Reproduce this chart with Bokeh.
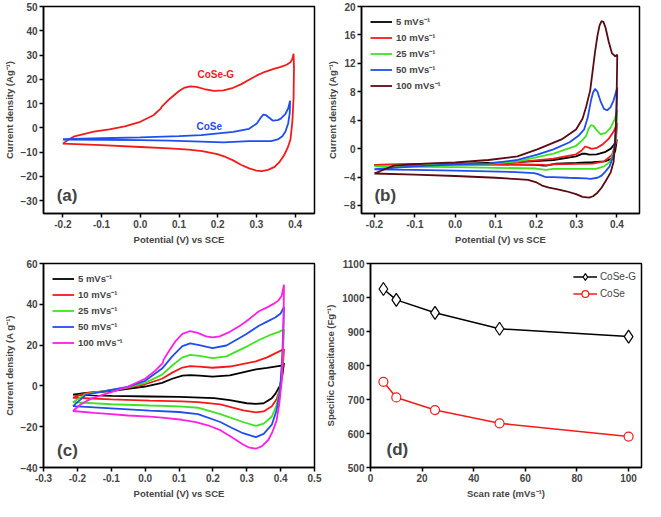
from bokeh.plotting import figure
from bokeh.layouts import column, row
from bokeh.models import FixedTicker, NumeralTickFormatter, Legend, LegendItem, Label
from bokeh.embed import file_html
from bokeh.resources import INLINE

FONT = "Liberation Sans"

# ---------------- Panel (a): CV at 5 mV/s ----------------
A_COSEG_V = [-0.2, -0.185, -0.17, -0.12, -0.08, -0.04, 0.0, 0.034, 0.052, 0.056, 0.075, 0.1, 0.115, 0.129,
             0.145, 0.165, 0.19, 0.215, 0.24, 0.26, 0.281, 0.3, 0.322, 0.345, 0.363, 0.378, 0.388, 0.393, 0.396,
             0.397, 0.396, 0.393, 0.388, 0.38, 0.371, 0.36, 0.347, 0.33, 0.314, 0.3, 0.281, 0.26, 0.24, 0.22,
             0.199, 0.16, 0.125, 0.075, 0.0, -0.1, -0.2]
A_COSEG_J = [-6.5, -4.8, -3.5, -1.6, -0.6, 0.6, 2.5, 5.2, 7.8, 8.8, 11.8, 15.2, 16.6, 17.1,
             16.9, 16.0, 15.2, 15.4, 16.5, 17.9, 19.8, 21.5, 23.1, 24.3, 25.1, 26.0, 27.0, 28.5, 30.5,
             25.0, 12.5, 3.0, -4.8, -8.5, -11.4, -14.0, -16.1, -17.3, -17.8, -17.6, -16.7, -15.2, -13.4, -12.0,
             -10.8, -9.6, -9.0, -8.5, -7.9, -7.1, -6.5]
A_COSE_V = [-0.2, -0.1, 0.0, 0.1, 0.157, 0.24, 0.281, 0.301, 0.311, 0.318, 0.325, 0.342, 0.355, 0.363, 0.375,
            0.382, 0.387,
            0.386, 0.382, 0.375, 0.367, 0.355, 0.338, 0.281, 0.24, 0.215, 0.157, 0.075, 0.0, -0.1, -0.2]
A_COSE_J = [-4.7, -4.3, -3.9, -3.4, -3.0, -1.7, -0.4, 1.8, 4.2, 5.4, 5.2, 3.0, 3.2, 3.8, 5.8,
            8.0, 11.2,
            6.0, 1.8, -1.5, -3.5, -4.8, -5.5, -5.5, -5.8, -6.0, -5.7, -5.3, -5.1, -4.9, -4.8]

# ---------------- Panel (b): CoSe at several scan rates ----------------
B_LABELS = ["5 mVs\u207b\u00b9", "10 mVs\u207b\u00b9", "25 mVs\u207b\u00b9", "50 mVs\u207b\u00b9", "100 mVs\u207b\u00b9"]
B5_V = [-0.2, -0.1, 0.0, 0.082, 0.154, 0.243, 0.299, 0.315, 0.322, 0.331, 0.35, 0.37, 0.385, 0.395, 0.4,
        0.4, 0.396, 0.388, 0.37, 0.34, 0.3, 0.25, 0.225, 0.219, 0.2, 0.1, 0.0, -0.1, -0.2]
B5_J = [-2.3, -2.2, -2.15, -2.0, -1.9, -1.6, -1.1, -0.7, -0.72, -0.85, -0.8, -0.5, 0.0, 0.7, 1.3,
        1.3, -0.3, -1.4, -1.8, -1.9, -2.0, -2.1, -2.4, -2.4, -2.3, -2.2, -2.2, -2.25, -2.3]
B10_V = [-0.2, -0.1, 0.0, 0.082, 0.154, 0.243, 0.299, 0.312, 0.322, 0.33, 0.338, 0.35, 0.365, 0.38, 0.392, 0.401,
         0.401, 0.397, 0.388, 0.368, 0.34, 0.3, 0.243, 0.225, 0.219, 0.2, 0.1, 0.0, -0.1, -0.2]
B10_J = [-2.3, -2.25, -2.2, -2.1, -1.9, -1.4, -0.8, -0.3, 0.3, 0.15, -0.03, 0.1, 0.6, 1.4, 2.4, 3.6,
         3.6, 0.8, -0.9, -1.8, -2.1, -2.15, -2.2, -2.35, -2.3, -2.25, -2.25, -2.25, -2.25, -2.3]
B25_V = [-0.2, -0.1, 0.0, 0.082, 0.154, 0.243, 0.299, 0.315, 0.324, 0.33, 0.336, 0.342, 0.35, 0.36, 0.372, 0.385,
         0.395, 0.401,
         0.401, 0.397, 0.388, 0.378, 0.368, 0.348, 0.3, 0.243, 0.225, 0.219, 0.2, 0.1, 0.0, -0.1, -0.2]
B25_J = [-2.5, -2.3, -2.2, -2.15, -1.8, -0.7, 0.4, 1.2, 1.8, 2.8, 3.3, 3.2, 2.6, 2.0, 2.2, 3.0,
         4.2, 5.4,
         5.4, 1.0, -1.4, -2.1, -2.5, -2.85, -2.85, -2.85, -3.0, -2.95, -2.8, -2.7, -2.6, -2.55, -2.5]
B50_V = [-0.2, -0.1, 0.0, 0.082, 0.154, 0.203, 0.243, 0.283, 0.305, 0.319, 0.328, 0.336, 0.341, 0.346, 0.352,
         0.36, 0.368, 0.376, 0.384, 0.392, 0.397, 0.401,
         0.401, 0.398, 0.392, 0.382, 0.372, 0.362, 0.352, 0.335, 0.324, 0.28, 0.243, 0.225, 0.219, 0.205,
         0.195, 0.15, 0.082, 0.0, -0.1, -0.2]
B50_J = [-2.9, -2.5, -2.2, -2.1, -1.6, -0.85, -0.1, 0.9, 1.8, 2.7, 4.4, 6.8, 7.9, 8.4, 8.0,
         6.6, 5.6, 5.4, 5.8, 6.8, 7.8, 8.6,
         8.6, 3.0, -0.9, -2.5, -3.2, -3.8, -4.1, -4.25, -4.2, -4.1, -4.0, -4.0, -3.9, -3.6,
         -3.45, -3.3, -3.2, -3.1, -3.0, -2.9]
B100_V = [-0.2, -0.17, -0.152, -0.1, -0.05, 0.0, 0.082, 0.154, 0.203, 0.263, 0.299, 0.315, 0.324, 0.334, 0.34,
          0.346, 0.352, 0.357, 0.362, 0.367, 0.372, 0.38, 0.388, 0.396, 0.401,
          0.401, 0.399, 0.396, 0.392, 0.385, 0.372, 0.362, 0.352, 0.341, 0.331, 0.315, 0.299, 0.275, 0.251,
          0.232, 0.215, 0.199, 0.18, 0.154, 0.1, 0.0, -0.1, -0.2]
B100_J = [-3.5, -2.8, -2.4, -2.2, -2.05, -1.95, -1.6, -1.1, -0.1, 1.3, 2.7, 4.2, 5.9, 8.2, 10.9,
          13.6, 15.9, 17.3, 17.95, 17.8, 17.0, 15.0, 13.4, 13.0, 13.2,
          13.2, 6.0, 1.0, -1.8, -3.3, -4.6, -5.5, -6.2, -6.7, -6.9, -6.8, -6.4, -6.0, -5.7,
          -5.5, -5.2, -4.7, -4.4, -4.3, -4.1, -3.85, -3.65, -3.5]

# ---------------- Panel (c): CoSe-G at several scan rates ----------------
C5_V = [-0.213, -0.175, -0.1, -0.052, 0.0, 0.05, 0.08, 0.11, 0.133, 0.16, 0.199, 0.25, 0.327, 0.36, 0.393, 0.405, 0.41,
        0.41, 0.405, 0.398, 0.393, 0.385, 0.374, 0.35, 0.327, 0.3, 0.25, 0.204, 0.1, 0.014, -0.1, -0.213]
C5_J = [-4.3, -3.4, -2.6, -1.5, -0.3, 1.5, 3.5, 5.0, 5.3, 5.0, 4.5, 5.2, 8.1, 8.8, 9.7, 10.0, 11.2,
        11.2, 5.0, 0.0, -1.3, -3.8, -6.0, -8.5, -8.8, -8.5, -7.0, -6.0, -5.4, -5.2, -4.9, -4.3]
C10_V = [-0.213, -0.175, -0.1, -0.052, 0.0, 0.05, 0.08, 0.11, 0.133, 0.16, 0.199, 0.25, 0.327, 0.36, 0.393, 0.41,
         0.41, 0.405, 0.398, 0.388, 0.374, 0.35, 0.327, 0.29, 0.222, 0.156, 0.109, 0.014, -0.1, -0.213]
C10_J = [-5.8, -3.5, -2.2, -1.0, 0.8, 3.5, 6.5, 9.0, 9.7, 9.4, 8.9, 9.5, 12.0, 14.0, 16.7, 18.0,
         18.0, 6.0, -1.5, -6.5, -10.0, -12.5, -13.0, -12.0, -9.1, -8.0, -7.6, -7.2, -6.6, -5.8]
C25_V = [-0.213, -0.175, -0.1, -0.052, 0.0, 0.05, 0.08, 0.11, 0.133, 0.16, 0.199, 0.24, 0.298, 0.336, 0.374, 0.395, 0.41,
         0.41, 0.405, 0.398, 0.388, 0.374, 0.35, 0.327, 0.289, 0.222, 0.156, 0.1, 0.014, -0.1, -0.213]
C25_J = [-8.0, -4.0, -2.0, -0.7, 1.5, 5.5, 10.0, 14.0, 15.2, 14.7, 13.6, 14.5, 19.1, 22.5, 25.3, 26.5, 27.7,
         27.7, 10.0, -2.0, -9.5, -15.0, -18.5, -19.6, -17.7, -13.8, -10.7, -10.0, -9.6, -9.0, -8.0]
C50_V = [-0.213, -0.175, -0.1, -0.052, 0.0, 0.05, 0.08, 0.11, 0.133, 0.16, 0.199, 0.24, 0.298, 0.336, 0.36, 0.384, 0.4, 0.41,
         0.41, 0.405, 0.398, 0.388, 0.374, 0.35, 0.327, 0.289, 0.255, 0.222, 0.156, 0.1, 0.014, -0.1, -0.213]
C50_J = [-9.9, -4.4, -2.0, -0.5, 2.5, 8.5, 14.5, 19.5, 20.8, 20.0, 18.5, 19.8, 25.3, 29.5, 31.5, 33.5, 35.5, 38.7,
         38.7, 15.0, -2.9, -12.0, -19.0, -23.5, -25.1, -23.2, -20.5, -17.7, -13.8, -12.8, -12.1, -11.0, -9.9]
C100_V = [-0.213, -0.19, -0.156, -0.1, -0.052, 0.0, 0.03, 0.052, 0.055, 0.07, 0.09, 0.11, 0.133, 0.155, 0.18, 0.199,
          0.22, 0.25, 0.28, 0.298, 0.336, 0.36, 0.379, 0.393, 0.403, 0.41,
          0.41, 0.408, 0.403, 0.396, 0.388, 0.376, 0.364, 0.345, 0.327, 0.308, 0.289, 0.255, 0.222, 0.185, 0.15,
          0.109, 0.05, 0.014, -0.05, -0.1, -0.15, -0.213]
C100_J = [-12.3, -9.0, -6.0, -3.0, -0.5, 3.5, 7.5, 11.2, 13.0, 17.0, 22.0, 25.5, 26.9, 26.0, 24.3, 23.8,
          24.3, 26.5, 29.5, 31.6, 36.6, 38.5, 40.2, 41.8, 44.1, 49.6,
          49.6, 25.0, 1.8, -9.0, -17.0, -22.5, -26.4, -29.5, -30.8, -30.3, -28.7, -25.0, -21.7, -19.3, -17.8,
          -16.6, -15.6, -15.1, -14.5, -13.8, -13.2, -12.3]

# ---------------- Panel (d): specific capacitance ----------------
D_RATE = [5, 10, 25, 50, 100]
D_COSEG = [1025, 993, 955, 908, 885]
D_COSE = [752, 706, 669, 630, 591]

RED = "#f51a1a"
BLUE = "#1f4ef0"
GREEN = "#3fe31f"
MAGENTA = "#ff1fe6"
BROWN = "#5b0b14"
CV_COLORS = ["black", RED, GREEN, BLUE]
LW = 1.8


def style(p, xt, yt, fmt_x=True):
    p.xaxis.ticker = FixedTicker(ticks=xt)
    p.yaxis.ticker = FixedTicker(ticks=yt)
    if fmt_x:
        p.xaxis.formatter = NumeralTickFormatter(format="0.0")
    p.xgrid.visible = False
    p.ygrid.visible = False
    for ax in p.axis:
        ax.major_tick_in = 0
        ax.major_tick_out = 4
        ax.minor_tick_line_color = None
        ax.axis_line_width = 1.5
        ax.major_tick_line_width = 1.5
        ax.major_label_text_font = FONT
        ax.major_label_text_font_style = "bold"
        ax.major_label_text_font_size = "10px"
        ax.major_label_standoff = 2
        ax.axis_label_text_font = FONT
        ax.axis_label_text_font_style = "bold"
        ax.axis_label_text_font_size = "9.5px"
        ax.axis_label_standoff = 3
    p.outline_line_color = "black"
    p.outline_line_width = 1.5
    p.outline_line_alpha = 1.0


def panel_label(p, x, y, txt):
    p.add_layout(Label(x=x, y=y, text=txt, text_font=FONT, text_font_style="bold",
                       text_font_size="17px", text_align="left", text_baseline="middle"))


def legend(p, items, loc):
    lg = Legend(items=items, location=loc, border_line_color=None, background_fill_alpha=0,
                label_text_font=FONT, label_text_font_style="bold", label_text_font_size="9.5px",
                glyph_width=22, glyph_height=11, label_height=11, spacing=3, padding=2, margin=9,
                label_standoff=4)
    p.add_layout(lg)


common = dict(output_backend="svg", toolbar_location=None)

# (a)
pa = figure(width=322, height=250, x_range=(-0.25, 0.45), y_range=(-35.3, 50),
            min_border_left=38, min_border_right=8, min_border_top=6, min_border_bottom=37, **common)
pa.line(A_COSEG_V, A_COSEG_J, color=RED, line_width=LW)
pa.line(A_COSE_V, A_COSE_J, color=BLUE, line_width=LW)
pa.xaxis.axis_label = "Potential (V) vs SCE"
pa.yaxis.axis_label = "Current density (Ag\u207b\u00b9)"
style(pa, [-0.2, -0.1, 0.0, 0.1, 0.2, 0.3, 0.4], [-30, -20, -10, 0, 10, 20, 30, 40, 50])
pa.add_layout(Label(x=0.195, y=22, text="CoSe-G", text_color=RED, text_font=FONT, text_font_style="bold",
                    text_font_size="10px", text_align="center", text_baseline="middle"))
pa.add_layout(Label(x=0.178, y=0.5, text="CoSe", text_color=BLUE, text_font=FONT, text_font_style="bold",
                    text_font_size="10px", text_align="center", text_baseline="middle"))
panel_label(pa, -0.216, -28, "(a)")

# (b)
pb = figure(width=323, height=250, x_range=(-0.232, 0.456), y_range=(-9.13, 20),
            min_border_left=39, min_border_right=6, min_border_top=6, min_border_bottom=37, **common)
b_data = [(B5_V, B5_J), (B10_V, B10_J), (B25_V, B25_J), (B50_V, B50_J), (B100_V, B100_J)]
b_cols = CV_COLORS + [BROWN]
b_items = []
for (v, j), c, lab in zip(b_data, b_cols, B_LABELS):
    r = pb.line(v, j, color=c, line_width=LW)
    b_items.append(LegendItem(label=lab, renderers=[r]))
pb.xaxis.axis_label = "Potential (V) vs SCE"
pb.yaxis.axis_label = "Current density (Ag\u207b\u00b9)"
style(pb, [-0.2, -0.1, 0.0, 0.1, 0.2, 0.3, 0.4], [-8, -4, 0, 4, 8, 12, 16, 20])
legend(pb, b_items, "top_left")
panel_label(pb, -0.2, -6.6, "(b)")

# (c)
pc = figure(width=322, height=251, x_range=(-0.3, 0.5), y_range=(-40, 60),
            min_border_left=38, min_border_right=8, min_border_top=13, min_border_bottom=32, **common)
c_data = [(C5_V, C5_J), (C10_V, C10_J), (C25_V, C25_J), (C50_V, C50_J), (C100_V, C100_J)]
c_cols = CV_COLORS + [MAGENTA]
c_items = []
for (v, j), c, lab in zip(c_data, c_cols, B_LABELS):
    r = pc.line(v, j, color=c, line_width=LW)
    c_items.append(LegendItem(label=lab, renderers=[r]))
pc.xaxis.axis_label = "Potential (V) vs SCE"
pc.yaxis.axis_label = "Current density (A g\u207b\u00b9)"
style(pc, [-0.3, -0.2, -0.1, 0.0, 0.1, 0.2, 0.3, 0.4, 0.5], [-40, -20, 0, 20, 40, 60])
legend(pc, c_items, "top_left")
panel_label(pc, -0.26, -31.7, "(c)")

# (d)
pd_ = figure(width=323, height=251, x_range=(0, 105), y_range=(500, 1100),
             min_border_left=46, min_border_right=4, min_border_top=13, min_border_bottom=32, **common)
l1 = pd_.line(D_RATE, D_COSEG, color="black", line_width=1.5)
s1 = pd_.scatter(D_RATE, D_COSEG, marker="diamond", size=13, line_color="black",
                 fill_color="white", line_width=1.2)
l2 = pd_.line(D_RATE, D_COSE, color=RED, line_width=1.5)
s2 = pd_.scatter(D_RATE, D_COSE, marker="circle", size=9, line_color=RED, fill_color="white", line_width=1.2)
pd_.xaxis.axis_label = "Scan rate (mVs\u207b\u00b9)"
pd_.yaxis.axis_label = "Specific Capacitance (Fg\u207b\u00b9)"
style(pd_, [0, 20, 40, 60, 80, 100], [500, 600, 700, 800, 900, 1000, 1100], fmt_x=False)
lg = Legend(items=[LegendItem(label="CoSe-G", renderers=[l1, s1]), LegendItem(label="CoSe", renderers=[l2, s2])],
            location="top_right", border_line_color=None, background_fill_alpha=0,
            label_text_font=FONT, label_text_font_size="10px", glyph_width=24, glyph_height=17,
            label_height=17, spacing=0, padding=0, margin=5, label_standoff=3)
pd_.add_layout(lg)
panel_label(pd_, 6.2, 552, "(d)")

layout = column(row(pa, pb), row(pc, pd_))
open("out.html", "w").write(file_html(layout, INLINE))
